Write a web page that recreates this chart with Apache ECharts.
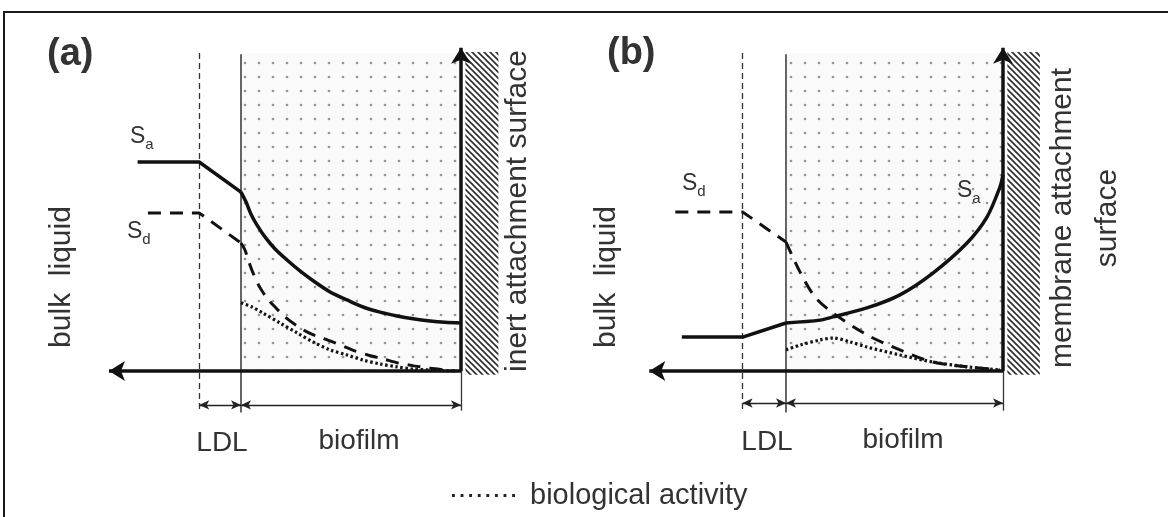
<!DOCTYPE html>
<html>
<head>
<meta charset="utf-8">
<script src="https://cdn.jsdelivr.net/npm/echarts@6/dist/echarts.min.js"></script>
<style>
  html, body { margin: 0; padding: 0; background: #fff; }
  #chart { width: 1168px; height: 517px; }
</style>
</head>
<body>
<div id="chart"></div>
<script>
// x: distance from the attachment surface (biofilm thickness = 100), y: concentration (0-100)
const filmEdge = 100;
const ldlEdgeA = 119;
const ldlEdgeB = 120;

// Panel (a) - inert attachment surface
const saBulkA = [[147, 65.3], [119, 65.3], [100, 55.9]];
const saFilmA = [[100, 55.9], [97.7, 52.8], [95.5, 49.1], [92.7, 45.6], [89.1, 41.9], [84.5, 38.1], [79.1, 34.7],
  [73.2, 31.3], [66.4, 27.8], [59.5, 24.7], [51.8, 22.2], [44.5, 20.0], [36.8, 18.4], [29.1, 17.2],
  [21.8, 16.3], [14.1, 15.6], [7.3, 15.2], [0, 15.0]];
const sdBulkA = [[142.3, 49.4], [119, 49.4], [100, 40]];
const sdFilmA = [[100, 40], [98.2, 37.8], [96.4, 34.1], [94.5, 30.6], [91.8, 26.6], [88.2, 22.8], [84.1, 19.7],
  [80, 16.9], [74.5, 14.1], [69.1, 11.9], [63.2, 10.3], [57.3, 8.8], [49.5, 6.6], [42.3, 5.0], [35.5, 3.8],
  [28.6, 2.5], [21.4, 1.6], [14.1, 0.9], [7.3, 0.3], [2.7, 0]];
const bioA = [[100, 21.3], [95, 20], [90, 18.1], [82.3, 15], [74.5, 11.9], [67.3, 9.1], [59.5, 6.6], [51.8, 5.0],
  [44.5, 3.4], [36.8, 2.2], [29.1, 1.3], [21.8, 0.6], [14.1, 0.3], [5, 0]];

// Panel (b) - membrane attachment surface
const saBulkB = [[148, 10.6], [120, 10.6], [100, 15]];
const saFilmB = [[100, 15], [84.3, 15.9], [78.3, 16.9], [62.7, 19.7], [47.5, 23.8], [32.3, 30.6], [16.6, 40],
  [7.4, 48.1], [1.4, 57.5], [0, 61.3]];
const sdBulkB = [[151, 49.7], [120, 49.7], [100, 40.3]];
const sdFilmB = [[100, 40.3], [93.5, 30.9], [86.6, 23.1], [78.3, 18.1], [62.7, 11.3], [47.5, 6.6], [32.3, 2.8],
  [16.6, 1.3], [1.4, 0.3]];
const bioB = [[100, 6.6], [93.5, 8.1], [84.3, 9.7], [78.3, 10.3], [70.5, 9.1], [62.7, 7.5], [47.5, 5.0],
  [32.3, 2.8], [16.6, 1.3], [1.4, 0.3]];

// Extents of the drawing in the same units
const regionTop = 99.4;      // top of the biofilm / LDL zone
const axisTop = 101;         // tip of the concentration arrow
const axisLeftA = 160, axisLeftB = 163;     // tip of the distance arrow
const wallOuter = -17, wallInner = -2;      // hatched support wall
const guideBottom = -12.4;

const FONT = '"Liberation Sans", Arial, Helvetica, sans-serif';
const INK = '#111';
const TEXT = '#333';

function dotFill() {
  const c = document.createElement('canvas');
  c.width = 14; c.height = 14;
  const g = c.getContext('2d');
  g.fillStyle = '#fafafa'; g.fillRect(0, 0, 14, 14);
  g.fillStyle = '#959595';
  g.beginPath(); g.arc(7, 7, 1.35, 0, Math.PI * 2); g.fill();
  return { image: c, repeat: 'repeat' };
}
function hatchFill() {
  const s = 6;
  const c = document.createElement('canvas');
  c.width = s; c.height = s;
  const g = c.getContext('2d');
  g.fillStyle = '#fff'; g.fillRect(0, 0, s, s);
  g.strokeStyle = '#2e2e2e'; g.lineWidth = 1.6;
  g.beginPath();
  g.moveTo(-1, -1); g.lineTo(s + 1, s + 1);
  g.moveTo(-1, s - 1); g.lineTo(1, s + 1);
  g.moveTo(s - 1, -1); g.lineTo(s + 1, 1);
  g.stroke();
  return { image: c, repeat: 'repeat' };
}
const DOTS = dotFill();
const HATCH = hatchFill();

const saStyle = { color: INK, width: 3.5, type: 'solid', cap: 'butt' };
const sdStyle = { color: INK, width: 3, type: [13, 9], cap: 'butt' };
const bioStyle = { color: '#151515', width: 3.2, type: [2.5, 2.6], cap: 'butt' };

function curve(name, data, idx, style, smooth) {
  return {
    name, type: 'line', data, xAxisIndex: idx, yAxisIndex: idx,
    showSymbol: false, symbol: 'none', smooth: smooth ? 0.3 : false,
    lineStyle: style, itemStyle: { color: style.color }, z: 5, silent: true,
    clip: false
  };
}

function panel(idx, ldlEdge, axisLeft, d) {
  return [
    // zones: biofilm (dotted) and support wall (hatched)
    {
      type: 'line', data: [], xAxisIndex: idx, yAxisIndex: idx, z: 1, silent: true,
      markArea: {
        silent: true, label: { show: false },
        data: [
          [{ coord: [filmEdge, regionTop], itemStyle: { color: DOTS } }, { coord: [0, 0] }],
          [{ coord: [wallInner, regionTop + 0.3], itemStyle: { color: HATCH } }, { coord: [wallOuter, -1.2] }]
        ]
      }
    },
    // zone boundaries
    {
      type: 'line', data: [], xAxisIndex: idx, yAxisIndex: idx, z: 2, silent: true,
      markLine: {
        silent: true, symbol: ['none', 'none'], label: { show: false },
        data: [
          [{ coord: [ldlEdge, regionTop], lineStyle: { color: '#333', width: 1.3, type: [6, 4] } }, { coord: [ldlEdge, guideBottom] }],
          [{ coord: [filmEdge, regionTop - 0.4], lineStyle: { color: '#555', width: 1.8, type: 'solid' } }, { coord: [filmEdge, guideBottom - 0.6] }],
          [{ coord: [0, 0], lineStyle: { color: '#333', width: 1.3, type: 'solid' } }, { coord: [0, guideBottom] }]
        ]
      }
    },
    // thickness dimensions: LDL and biofilm
    {
      type: 'line', data: [], xAxisIndex: idx, yAxisIndex: idx, z: 3, silent: true,
      markLine: {
        silent: true, symbol: ['arrow', 'arrow'], symbolSize: [7, 10], label: { show: false },
        lineStyle: { color: '#222', width: 1.3, type: 'solid' },
        data: [
          [{ coord: [ldlEdge, d.dimY] }, { coord: [filmEdge, d.dimY] }],
          [{ coord: [filmEdge, d.dimY] }, { coord: [0, d.dimY] }]
        ]
      }
    },
    curve('Sa', d.saBulk, idx, saStyle, false),
    curve('Sa', d.saFilm, idx, saStyle, true),
    curve('Sd', d.sdBulk, idx, sdStyle, false),
    curve('Sd', d.sdFilm, idx, sdStyle, true),
    curve('biological activity', d.bio, idx, bioStyle, true),
    // concentration and distance arrows
    {
      type: 'line', data: [], xAxisIndex: idx, yAxisIndex: idx, z: 6, silent: true,
      markLine: {
        silent: true, symbol: ['none', 'arrow'], symbolSize: [15, 16], label: { show: false },
        lineStyle: { color: INK, width: 3.5, type: 'solid' },
        data: [
          [{ coord: [0, 0] }, { coord: [0, axisTop] }],
          [{ coord: [0, 0] }, { coord: [axisLeft, 0] }]
        ]
      }
    }
  ];
}

function label(text, x, y, opts) {
  opts = opts || {};
  return {
    type: 'text', x, y, rotation: opts.rot || 0, silent: true, z: 10,
    style: {
      text, fill: TEXT, font: (opts.weight || 'normal') + ' ' + (opts.size || 28) + 'px ' + FONT,
      fontSize: opts.size || 28, fontFamily: FONT, fontWeight: opts.weight || 'normal',
      align: opts.align || 'center', verticalAlign: 'middle',
      textAlign: opts.align || 'center', textVerticalAlign: 'middle'
    }
  };
}
function subLabel(main, sub, x, yMid) {
  return {
    type: 'text', x, y: yMid - 15, silent: true, z: 10,
    style: {
      text: '{s|' + main + '}{b|' + sub + '}',
      align: 'left', verticalAlign: 'top', textAlign: 'left', textVerticalAlign: 'top',
      rich: {
        s: { fontSize: 23, fontFamily: FONT, lineHeight: 30, fill: TEXT, color: TEXT },
        b: { fontSize: 15, fontFamily: FONT, lineHeight: 14, verticalAlign: 'bottom', fill: TEXT, color: TEXT }
      }
    }
  };
}

// dotted legend key: eight square dots
const dottedKey = 'path://M0,0h1v1h-1z M3,0h1v1h-1z M6,0h1v1h-1z M9,0h1v1h-1z M12,0h1v1h-1z M15,0h1v1h-1z M18,0h1v1h-1z M21,0h1v1h-1z';

const chart = echarts.init(document.getElementById('chart'), null, { renderer: 'canvas' });

const pxPerUnitY = 3.2;
const gridTop = 47.8;
const gridHeight = (101 - (-14)) * pxPerUnitY;

chart.setOption({
  animation: false,
  backgroundColor: '#fff',
  grid: [
    { left: 109, top: gridTop, width: 177 * 2.2, height: gridHeight },
    { left: 1003 - 163 * 2.17, top: gridTop, width: 180 * 2.17, height: gridHeight }
  ],
  xAxis: [
    { type: 'value', gridIndex: 0, min: wallOuter, max: 160, inverse: true, show: false },
    { type: 'value', gridIndex: 1, min: wallOuter, max: 163, inverse: true, show: false }
  ],
  yAxis: [
    { type: 'value', gridIndex: 0, min: -14, max: 101, show: false },
    { type: 'value', gridIndex: 1, min: -14, max: 101, show: false }
  ],
  legend: {
    data: [{ name: 'biological activity', icon: dottedKey }],
    left: 452, top: 481, padding: 0,
    itemWidth: 63, itemHeight: 3, selectedMode: false,
    itemStyle: { color: '#222', borderWidth: 0 },
    textStyle: { fontSize: 29, color: TEXT, fontFamily: FONT, padding: [0, 0, 0, 10] }
  },
  series: [
    ...panel(0, ldlEdgeA, axisLeftA, { saBulk: saBulkA, saFilm: saFilmA, sdBulk: sdBulkA, sdFilm: sdFilmA, bio: bioA, dimY: -10.6 }),
    ...panel(1, ldlEdgeB, axisLeftB, { saBulk: saBulkB, saFilm: saFilmB, sdBulk: sdBulkB, sdFilm: sdFilmB, bio: bioB, dimY: -10 })
  ],
  graphic: [
    { type: 'rect', silent: true, z: 0, shape: { x: 4, y: 12, width: 1300, height: 700 }, style: { fill: 'none', stroke: '#1a1a1a', lineWidth: 2 } },
    label('(a)', 47, 55, { size: 38, weight: 'bold', align: 'left' }),
    label('(b)', 607, 54, { size: 38, weight: 'bold', align: 'left' }),
    subLabel('S', 'a', 130, 137),
    subLabel('S', 'd', 127, 232),
    subLabel('S', 'd', 682, 184),
    subLabel('S', 'a', 957, 191),
    label('bulk  liquid', 62, 277, { size: 30, rot: Math.PI / 2 }),
    label('bulk  liquid', 607, 277, { size: 30, rot: Math.PI / 2 }),
    label('inert attachment surface', 518, 211, { size: 30, rot: Math.PI / 2 }),
    label('membrane attachment', 1063, 218, { size: 30, rot: Math.PI / 2 }),
    label('surface', 1108, 218, { size: 30, rot: Math.PI / 2 }),
    label('LDL', 222, 443, { size: 28 }),
    label('biofilm', 359, 441, { size: 28 }),
    label('LDL', 767, 442, { size: 28 }),
    label('biofilm', 903, 440, { size: 28 })
  ]
});
</script>
</body>
</html>
